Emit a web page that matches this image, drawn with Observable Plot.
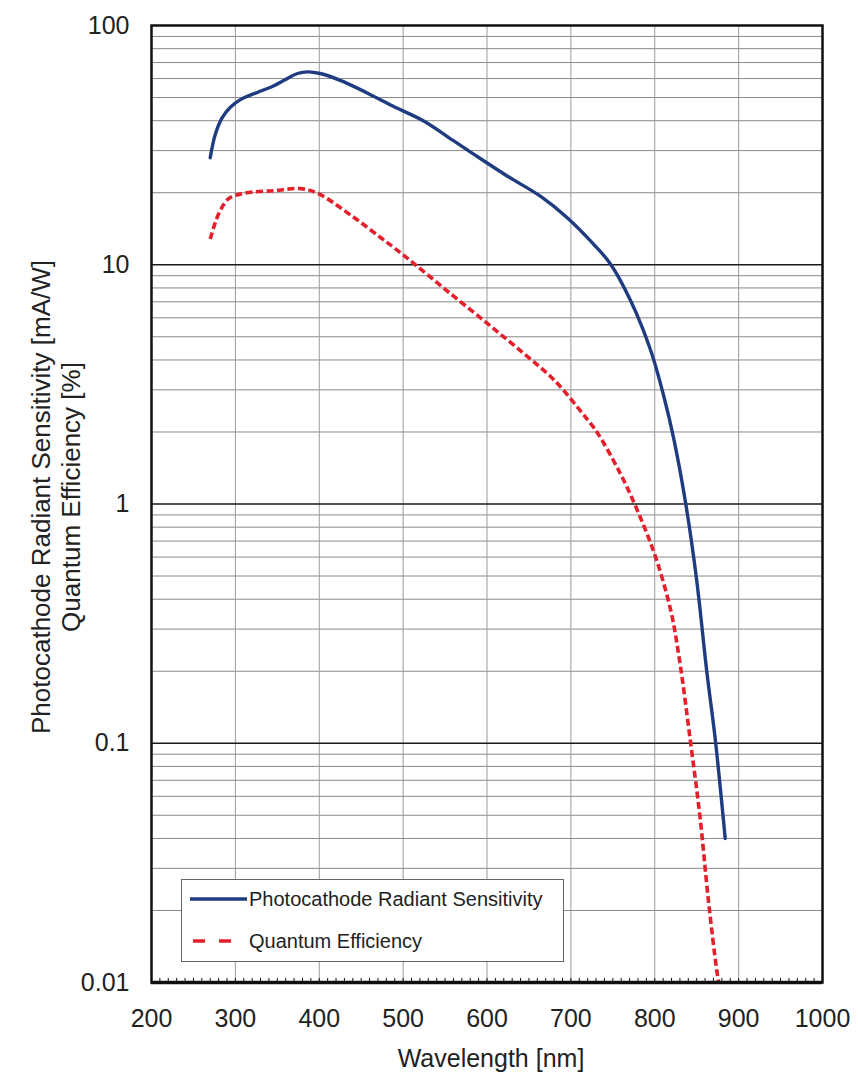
<!DOCTYPE html>
<html><head><meta charset="utf-8">
<script src="https://cdn.jsdelivr.net/npm/d3@7"></script>
<script src="https://cdn.jsdelivr.net/npm/@observablehq/plot@0.6"></script>
<style>body{margin:0;background:#fff;} svg{display:block}</style>
</head><body><div id="chart"></div>
<script>
// Photocathode radiant sensitivity [mA/W]
const blueNm  = [270,276,284,294,306,326,346,358,374,386,401,425,456,485,524,560,584,624,664,695,727,747,771,795,811,823,837,850,862,872,884];
const blueVal = [28,35,41,45.5,49,52.5,56,59,63,64,63,59,52.5,46.5,40,33,29,23.5,19.3,15.8,12.2,10.1,7.1,4.4,2.8,1.85,1.0,0.48,0.2,0.105,0.04];
// Quantum efficiency [%]
const redNm  = [270,280,292,310,346,378,398,441,473,489,513,552,600,644,680,719,731,759,781,801,819,829,844,854,864,874,878];
const redVal = [12.8,16.3,18.9,19.9,20.4,20.8,19.9,15.8,13.0,11.8,10.1,7.8,5.7,4.25,3.3,2.27,2.0,1.34,0.91,0.6,0.36,0.229,0.093,0.049,0.022,0.0112,0.0092];

const xTicks = [200,300,400,500,600,700,800,900,1000];
const yTicks = [0.01,0.1,1,10,100];
const yTickLabels = ["0.01","0.1","1","10","100"];
const seriesNames = ["Photocathode Radiant Sensitivity","Quantum Efficiency"];
const xLabel = "Wavelength [nm]";
const yLabel = ["Photocathode Radiant Sensitivity [mA/W]","Quantum Efficiency [%]"];

const blue = blueNm.map((x,i)=>({x, y: blueVal[i]}));
const red = redNm.map((x,i)=>({x, y: redVal[i]}));
const minorY = [];
for (const d of [0.01,0.1,1,10]) for (let k=2;k<=9;k++) minorY.push(+(k*d).toPrecision(3));
const minorX = d3.range(200,1001,10);

const W=858, H=1077, mL=151, mR=36, mT=25, mB=95;
const decadePx = (H-mT-mB)/4;
const font = "'Liberation Sans', Arial, Helvetica, sans-serif";
const blueC = "#1f3c80", redC = "#e3202b";

const plot = Plot.plot({
  width: W, height: H, marginLeft: mL, marginRight: mR, marginTop: mT, marginBottom: mB,
  style: {fontFamily: font, background: "#fff", color: "#222"},
  x: {domain:[200,1000]},
  y: {type:"log", domain:[0.01,100]},
  marks: [
    Plot.ruleY(minorY, {stroke:"#8a8a8a", strokeWidth:1}),
    Plot.ruleX(xTicks.slice(1,-1), {stroke:"#9a9a9a", strokeWidth:1}),
    Plot.ruleY(yTicks.slice(1,-1), {stroke:"#1a1a1a", strokeWidth:1.4}),
    Plot.ruleX(minorX, {x: d=>d, y1: 0.01, y2: 0.01*Math.pow(10, 4/decadePx), stroke:"#111", strokeWidth:1}),
    Plot.line(red, {x:"x", y:"y", stroke:redC, strokeWidth:3.6, strokeDasharray:"7,3.5", strokeLinecap:"butt", curve:"catmull-rom", clip:true}),
    Plot.line(blue, {x:"x", y:"y", stroke:blueC, strokeWidth:3.4, curve:"catmull-rom", clip:true}),
    Plot.frame({stroke:"#111", strokeWidth:2.5}),
    Plot.ruleY([0.01], {stroke:"#111", strokeWidth:3.5}),
    Plot.axisX({ticks: xTicks, tickSize:0, tickPadding:27, fontSize:25, label:null, tickFormat: d=>String(d)}),
    Plot.axisY({ticks: yTicks, tickSize:0, tickPadding:22, fontSize:25, label:null,
      tickFormat: d=>yTickLabels[yTicks.findIndex(t=>Math.abs(t-d)/t<1e-6)]}),
    Plot.text([xLabel], {frameAnchor:"bottom", dy:76, dx:4, fontSize:25, lineAnchor:"middle"}),
    Plot.text([yLabel.join("\n")], {frameAnchor:"left", textAnchor:"middle", dx:-96, dy:-7, rotate:-90, fontSize:26, lineHeight:1.15, lineAnchor:"middle"})
  ]
});
document.getElementById("chart").append(plot);

// legend box
const svg = d3.select(plot);
const g = svg.append("g").attr("font-family", font).attr("font-size", 20).attr("fill", "#222").attr("text-anchor","start");
g.append("rect").attr("x",181.5).attr("y",879.5).attr("width",382).attr("height",82)
  .attr("fill","#fff").attr("stroke","#666").attr("stroke-width",1);
g.append("line").attr("x1",190).attr("x2",247).attr("y1",899).attr("y2",899)
  .attr("stroke",blueC).attr("stroke-width",3.4);
g.append("line").attr("x1",193).attr("x2",232).attr("y1",941).attr("y2",941)
  .attr("stroke",redC).attr("stroke-width",3.5).attr("stroke-dasharray","12,14");
seriesNames.forEach((s,i)=>{
  g.append("text").attr("x",249).attr("y", i===0?899:941).attr("dy","0.35em")
    .attr("text-anchor","start").text(s);
});
</script>
</body></html>
